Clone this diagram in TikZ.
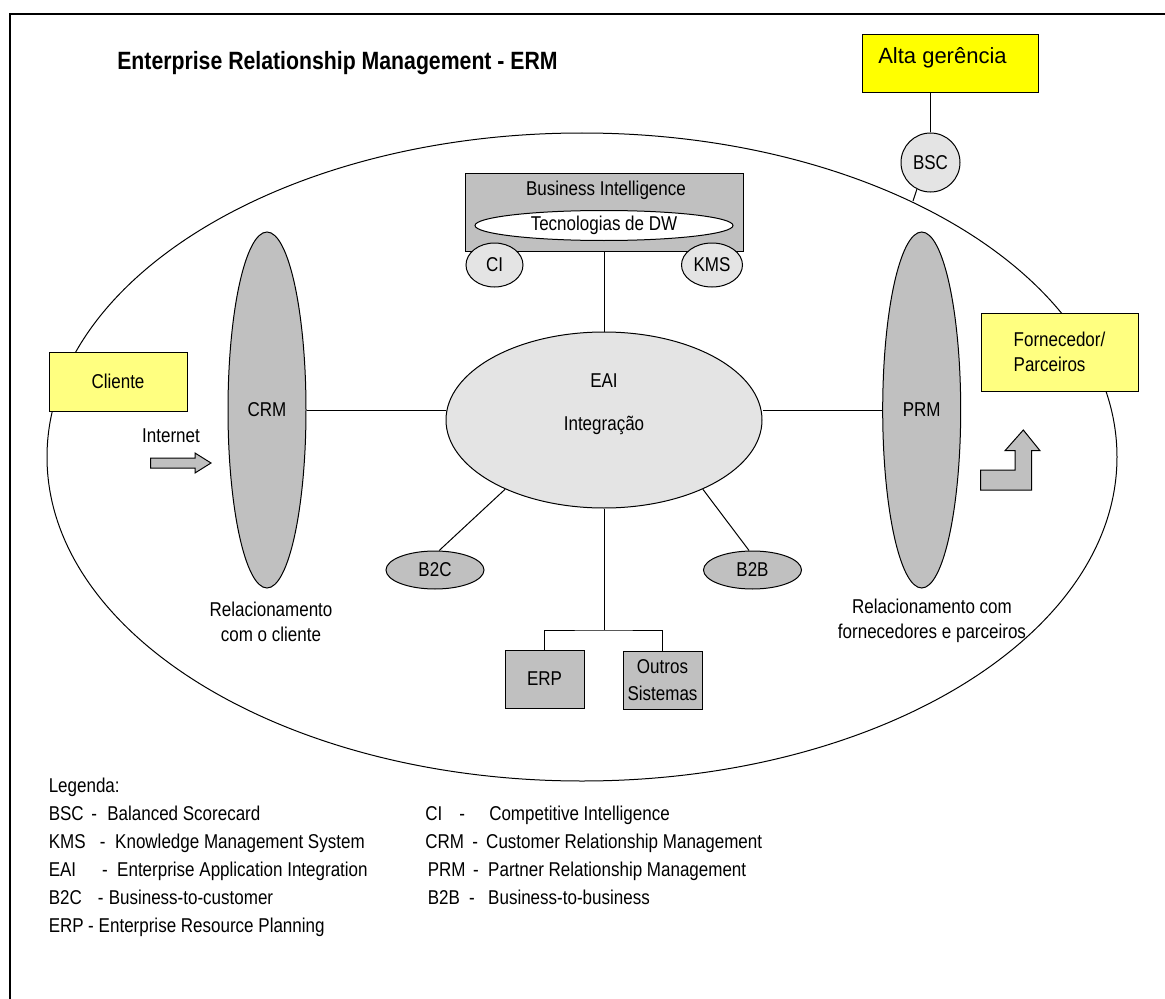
\documentclass[tikz,border=0pt]{standalone}
\usepackage{fontspec}
\setmainfont{Liberation Sans}[FakeStretch=0.85]
\newfontfamily\widefont{Liberation Sans}
\usetikzlibrary{shapes.geometric}

\definecolor{boxgray}{RGB}{192,192,192}
\definecolor{softgray}{RGB}{228,228,228}
\definecolor{hotyellow}{RGB}{255,255,0}
\definecolor{paleyellow}{RGB}{255,255,128}

\newcommand\lbl{\fontsize{15pt}{18pt}\selectfont}
\newcommand\headfont{\fontsize{18.75pt}{22pt}\selectfont\bfseries}
\newcommand\altafont{\widefont\fontsize{16.5pt}{20pt}\selectfont}

% one legend line: name, x, y, gap to dash, gap to text, abbreviation, meaning
\newcommand\legrow[7]{%
  \node[legendtext] (#1) at (#2,#3) {\rlap{#6}\hspace*{#4}\rlap{-}\hspace*{#5}#7};}

\tikzset{
  shape base/.style={draw=black, line width=0.75pt, inner sep=0pt, font=\lbl},
  greybox/.style={shape base, rectangle, fill=boxgray},
  greyoval/.style={shape base, ellipse, fill=boxgray},
  softoval/.style={shape base, ellipse, fill=softgray},
  hotbox/.style={shape base, rectangle, fill=hotyellow},
  palebox/.style={shape base, rectangle, fill=paleyellow},
  txt/.style={inner sep=0pt, font=\lbl},
  legendtext/.style={inner sep=0pt, font=\lbl, anchor=base west},
  link/.style={draw=black, line width=0.75pt},
  blockarrow/.style={draw=black, line width=0.75pt, fill=boxgray, line join=miter},
}

\begin{document}
\begin{tikzpicture}[x=0.75pt, y=-0.75pt]
\useasboundingbox (0,0) rectangle (1165,999);
\clip (0,0) rectangle (1165,999);
\fill[white] (0,0) rectangle (1165,999);

% outer frame (only top and left edges fall inside the page)
\draw[line width=1.5pt] (9.5,1100) -- (9.5,14) -- (1300,14);

% title
\node[inner sep=0pt, font=\headfont, anchor=base west] (title) at (117,70)
  {Enterprise Relationship Management - ERM};

% enterprise boundary
\node[shape base, ellipse, minimum width=802.5pt, minimum height=486pt] (erm) at (582,457) {};

% top management and scorecard
\node[hotbox, minimum width=132pt, minimum height=43.5pt] (alta) at (950,64) {};
\node[inner sep=0pt, font=\altafont, anchor=base west] (altatext) at (878,64) {Alta gerência};
\node[softoval, minimum width=44.25pt, minimum height=44.25pt] (bsc) at (930.5,162.5) {BSC};
\coordinate (bsctick) at (913,201);
\draw[link] (bsc.north) -- (bsc.north |- alta.south);
\draw[link] (bsc.-117) -- (bsctick);

% business intelligence block
\node[greybox, minimum width=208.5pt, minimum height=58.5pt] (bi) at (604,212) {};
\node[txt] (bititle) at (606,190) {Business Intelligence};
\node[shape base, ellipse, fill=white, minimum width=193.5pt, minimum height=22.5pt] (dw) at (604,225.5) {Tecnologias de DW};
\node[softoval, minimum width=42.75pt, minimum height=33pt] (ci) at (494.5,265) {CI};
\node[softoval, minimum width=45.75pt, minimum height=33pt] (kms) at (712,265) {KMS};

% integration hub
\node[softoval, minimum width=237pt, minimum height=132pt] (eai) at (604,420) {};
\node[txt] (eaitop) at (604,381) {EAI};
\node[txt] (eaisub) at (604,425) {Integração};

% relationship managers
\node[greyoval, minimum width=58.5pt, minimum height=267pt] (crm) at (267,410) {CRM};
\node[greyoval, minimum width=58.5pt, minimum height=267pt] (prm) at (921.7,410) {PRM};

% outside parties
\node[palebox, minimum width=103.5pt, minimum height=44.25pt] (cliente) at (118,381.5) {Cliente};
\node[palebox, align=left, minimum width=117.75pt, minimum height=58.5pt] (forn) at (1059.5,352) {Fornecedor/\\[0.8pt]Parceiros};

% e-business channels
\node[greyoval, minimum width=73.5pt, minimum height=28.5pt] (b2c) at (435,570) {B2C};
\node[greyoval, minimum width=73.5pt, minimum height=28.5pt] (b2b) at (752.5,570) {B2B};

% back-end systems
\node[greybox, minimum width=59.25pt, minimum height=43.5pt] (erp) at (544.5,679) {ERP};
\node[greybox, align=center, minimum width=59.25pt, minimum height=43.5pt] (outros) at (662.5,680) {Outros\\[2pt]Sistemas};
\coordinate (bus) at (604,630);

% connectors
\draw[link] (bi.south) -- (eai.north);
\draw[link] (crm.east) -- (crm.east -| eai.west);
\draw[link] (prm.west) -- (prm.west -| eai.east);
\draw[link] (eai.215) -- (b2c.78);
\draw[link] (eai.-35) -- (b2b.100);
\draw[link] (eai.south) -- (bus);
\draw[link] (erp.north) |- (bus) -| (outros.north);

% captions
\node[txt] (internet) at (171,436) {Internet};
\node[txt, align=center] (relcli) at (271,622) {Relacionamento\\[1pt]com o cliente};
\node[txt, align=center] (relforn) at (932,621) {Relacionamento com\\[1pt]fornecedores e parceiros};

% block arrows
\draw[blockarrow] (150.7,458) -- (195,458) -- (195,453) -- (211,463) -- (195,473) -- (195,468) -- (150.7,468) -- cycle;
\draw[blockarrow] (980.7,490) -- (980.7,470) -- (1015,470) -- (1015,450.7) -- (1005,450.7) -- (1023.3,430)
  -- (1040,450.7) -- (1031.7,450.7) -- (1031.7,490) -- cycle;

% legend
\node[legendtext] (legtitle) at (48.5,792) {Legenda:};
\legrow{lbsc}{48.5}{820}{31.9pt}{12pt}{BSC}{Balanced Scorecard}
\legrow{lkms}{48.5}{848}{38.25pt}{11.6pt}{KMS}{Knowledge Management System}
\legrow{leai}{48.5}{876}{40.1pt}{11.25pt}{EAI}{Enterprise Application Integration}
\legrow{lb2c}{48.5}{904}{36.75pt}{8.25pt}{B2C}{Business-to-customer}
\legrow{lerp}{48.5}{932}{29.6pt}{7.9pt}{ERP}{Enterprise Resource Planning}
\legrow{lci}{425}{820}{25.5pt}{22.5pt}{CI}{Competitive Intelligence}
\legrow{lcrm}{425}{848}{35.25pt}{10.5pt}{CRM}{Customer Relationship Management}
\legrow{lprm}{427.5}{876}{34.1pt}{11.25pt}{PRM}{Partner Relationship Management}
\legrow{lb2b}{427.5}{904}{31.1pt}{14.25pt}{B2B}{Business-to-business}
\end{tikzpicture}
\end{document}
